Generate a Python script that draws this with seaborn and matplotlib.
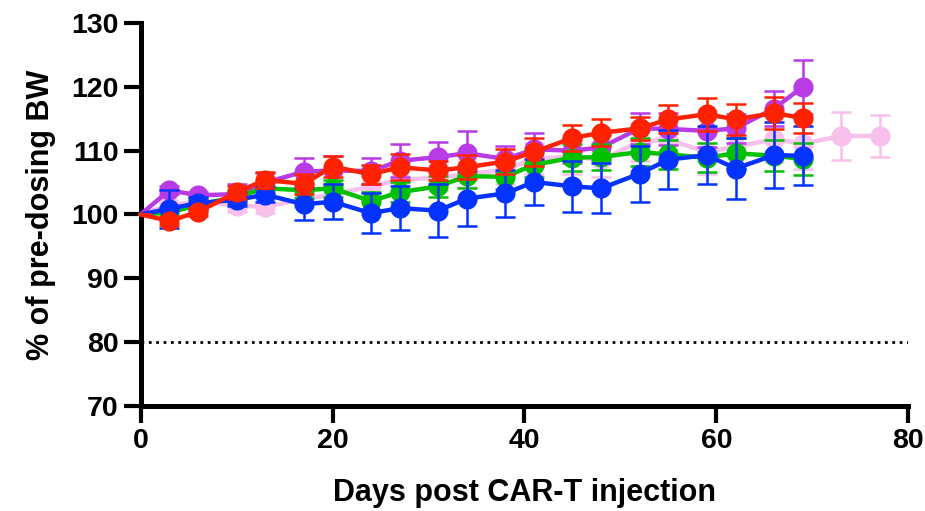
import matplotlib
matplotlib.use("Agg")
import matplotlib.pyplot as plt
import numpy as np
import pandas as pd
import seaborn as sns

# days of measurement (pink group has two extra timepoints)
days = [0, 3, 6, 10, 13, 17, 20, 24, 27, 31, 34, 38, 41, 45, 48, 52, 55, 59, 62, 66, 69]
days_pink = days + [73, 77]

# mean % of pre-dosing body weight and SEM
purple = [100, 103.8, 103.0, 103.2, 105.0, 106.7, 106.9, 106.8, 108.4, 109.0, 109.6,
          108.7, 110.2, 110.0, 110.5, 113.5, 113.4, 113.1, 113.5, 116.6, 120.0]
purple_sem = [0, 0.6, 0.5, 1.5, 1.5, 2.2, 2.2, 2.0, 2.6, 2.4, 3.5,
              2.0, 2.5, 2.0, 2.0, 2.4, 2.5, 2.5, 2.3, 2.7, 4.2]

red = [100, 99.0, 100.4, 103.5, 105.4, 104.8, 107.5, 106.3, 107.4, 106.9, 107.4,
       108.3, 109.8, 112.0, 112.8, 113.5, 114.9, 115.7, 114.9, 115.9, 115.1]
red_sem = [0, 0.6, 0.6, 1.0, 1.3, 1.6, 1.6, 1.5, 2.0, 1.5, 1.9,
           2.0, 2.2, 2.0, 2.1, 1.8, 2.2, 2.6, 2.4, 2.5, 2.3]

green = [100, 100.3, 101.5, 102.8, 104.1, 103.8, 104.1, 102.1, 103.5, 104.4, 106.0,
         105.9, 107.8, 108.9, 109.0, 109.8, 109.4, 108.9, 109.6, 109.2, 108.7]
green_sem = [0, 0.8, 1.0, 1.0, 1.0, 1.2, 1.3, 1.5, 1.6, 1.7, 1.8,
             1.9, 2.0, 2.1, 2.1, 2.2, 2.3, 2.3, 2.4, 2.4, 2.5]

blue = [100, 100.9, 101.8, 102.3, 103.1, 101.6, 102.0, 100.2, 101.0, 100.6, 102.5,
        103.3, 105.1, 104.4, 104.1, 106.4, 108.6, 109.3, 107.2, 109.3, 109.2]
blue_sem = [0, 3.0, 1.0, 1.0, 1.2, 2.5, 2.7, 3.1, 3.4, 4.2, 4.3,
            3.7, 3.6, 4.0, 3.9, 4.4, 4.6, 4.6, 4.8, 5.2, 4.6]

pink = [100, 101.5, 102.0, 101.4, 101.2, 102.4, 103.1, 104.4, 105.4, 105.8, 106.3,
        107.0, 108.8, 109.0, 108.6, 111.4, 111.7, 109.8, 110.6, 111.8, 111.1, 112.3, 112.3]
pink_sem = [0, 0.5, 0.8, 1.0, 1.0, 1.3, 1.5, 1.5, 1.7, 2.0, 2.0,
            2.2, 2.4, 2.6, 2.8, 3.0, 3.2, 3.4, 3.5, 3.6, 4.0, 3.8, 3.3]

# back to front
groups = [
    ("pink", days_pink, pink, pink_sem, "#F8C0EC"),
    ("purple", days, purple, purple_sem, "#B93BE6"),
    ("green", days, green, green_sem, "#00C000"),
    ("blue", days, blue, blue_sem, "#0433FF"),
    ("red", days, red, red_sem, "#FF2200"),
]

sns.set_style("ticks")
plt.rcParams['font.family'] = ['Liberation Sans', 'DejaVu Sans']
plt.rcParams['font.weight'] = 'bold'
for k in ['text.color', 'axes.labelcolor', 'xtick.color', 'ytick.color']:
    plt.rcParams[k] = 'black'

fig, ax = plt.subplots(figsize=(9.25, 5.11), dpi=100)
fig.subplots_adjust(left=0.152, right=0.982, top=0.955, bottom=0.2055)

for i, (name, x, y, err, col) in enumerate(groups):
    df = pd.DataFrame({'day': x, 'bw': y, 'sem': err})
    z = 3 + i
    ax.errorbar(df['day'], df['bw'], yerr=df['sem'], fmt='none', ecolor=col,
                elinewidth=1.8, capsize=7, capthick=1.8, zorder=z)
    sns.lineplot(data=df, x='day', y='bw', color=col, lw=3.2, marker='o',
                 markersize=14.5, markeredgewidth=0, markevery=list(range(1, len(x))),
                 ax=ax, zorder=z, clip_on=False)

ax.axhline(80, color='k', ls=':', lw=2, zorder=2)

ax.set_xlim(0, 80)
ax.set_ylim(70, 130)
ax.set_xticks([0, 20, 40, 60, 80])
ax.set_yticks([70, 80, 90, 100, 110, 120, 130])
ax.set_xlabel('Days post CAR-T injection', fontsize=22, fontweight='bold', labelpad=17)
ax.set_ylabel('% of pre-dosing BW', fontsize=22, fontweight='bold', labelpad=11)
ax.tick_params(axis='both', labelsize=20.5, width=3, length=12, pad=4,
               color='k', labelcolor='k')
for lab in ax.get_xticklabels() + ax.get_yticklabels():
    lab.set_fontweight('bold')

sns.despine(ax=ax)
for s in ['left', 'bottom']:
    ax.spines[s].set_linewidth(3.6)
    ax.spines[s].set_color('k')

plt.savefig('out.png', dpi=100)
